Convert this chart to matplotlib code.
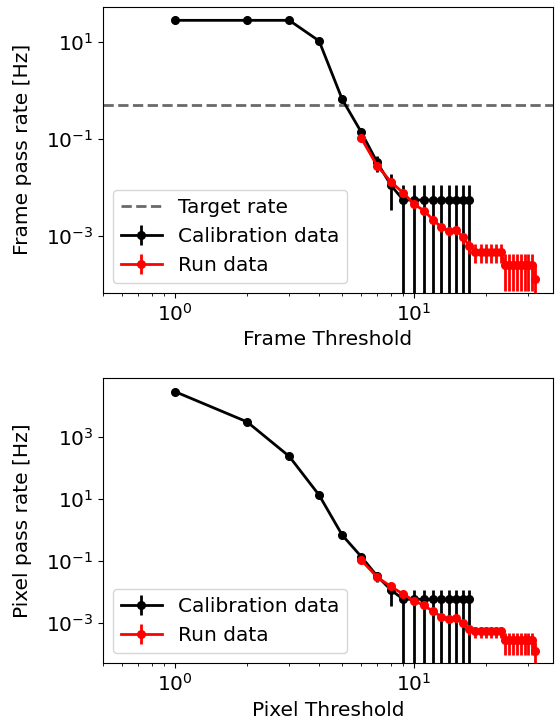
import matplotlib
matplotlib.use('Agg')
import matplotlib.pyplot as plt
import matplotlib.ticker as ticker
import numpy as np

# thresholds
cal_thresh = list(range(1, 18))
run_thresh = list(range(6, 33))

target_rate = 0.5

# frame threshold scan
frame_cal_rate = [28.5, 28.5, 28.5, 10.7, 0.66, 0.14, 0.033, 0.011,
                  0.0055, 0.0055, 0.0055, 0.0055, 0.0055, 0.0055, 0.0055, 0.0055, 0.0055]
frame_cal_err = [0.2, 0.2, 0.2, 0.12, 0.03, 0.015, 0.012, 0.0076,
                 0.0055, 0.0055, 0.0055, 0.0055, 0.0055, 0.0055, 0.0055, 0.0055, 0.0055]
frame_run_rate = [0.105, 0.028, 0.0130, 0.0077, 0.0045, 0.0033, 0.00213, 0.0015,
                  0.00124, 0.00132, 0.00093, 0.00062,
                  0.00047, 0.00047, 0.00047, 0.00047, 0.00047, 0.00047,
                  0.00025, 0.00025, 0.00025, 0.00025, 0.00025, 0.00025, 0.00025, 0.00025,
                  0.000126]
frame_run_err = [0.01, 0.003, 0.0015, 0.0009, 0.0006, 0.0005, 0.0004, 0.0003,
                 0.00027, 0.00028, 0.00024, 0.0002,
                 0.0002, 0.0002, 0.0002, 0.0002, 0.0002, 0.0002,
                 0.000177, 0.000177, 0.000177, 0.000177, 0.000177, 0.000177, 0.000177, 0.000177,
                 0.000126]

# pixel threshold scan
pixel_cal_rate = [30000, 3160, 242, 13.5, 0.68, 0.138, 0.032, 0.0114,
                  0.0057, 0.0057, 0.0057, 0.0057, 0.0057, 0.0057, 0.0057, 0.0057, 0.0057]
pixel_cal_err = [200, 40, 4, 0.5, 0.03, 0.015, 0.012, 0.008,
                 0.0057, 0.0057, 0.0057, 0.0057, 0.0057, 0.0057, 0.0057, 0.0057, 0.0057]
pixel_run_rate = [0.107, 0.0295, 0.0148, 0.0083, 0.0051, 0.0036, 0.0023, 0.00156,
                  0.00135, 0.00139, 0.00096, 0.0006,
                  0.00052, 0.00052, 0.00052, 0.00052, 0.00052, 0.00052,
                  0.00028, 0.00028, 0.00028, 0.00028, 0.00028, 0.00028, 0.00028, 0.00028,
                  0.00012]
pixel_run_err = [0.01, 0.003, 0.0015, 0.0009, 0.0006, 0.0005, 0.0004, 0.0003,
                 0.00028, 0.00029, 0.00025, 0.0002,
                 0.0002, 0.0002, 0.0002, 0.0002, 0.0002, 0.0002,
                 0.00019, 0.00019, 0.00019, 0.00019, 0.00019, 0.00019, 0.00019, 0.00019,
                 0.00012]

frame_yticks = [1e-3, 1e-1, 1e1]
pixel_yticks = [1e-3, 1e-1, 1e1, 1e3]

plt.rcParams['font.size'] = 14.5

fig = plt.figure(figsize=(5.55, 7.25), dpi=100)
ax1 = fig.add_axes([0.186, 0.596, 0.810, 0.395])
ax2 = fig.add_axes([0.186, 0.085, 0.810, 0.394])

style = dict(marker='o', markersize=5.5, linewidth=2, elinewidth=2)

# Frame threshold
ax1.axhline(target_rate, color='dimgrey', linestyle='--', linewidth=2, label='Target rate')
ax1.errorbar(cal_thresh, frame_cal_rate, yerr=frame_cal_err, color='k', label='Calibration data', **style)
ax1.errorbar(run_thresh, frame_run_rate, yerr=frame_run_err, color='r', label='Run data', **style)
ax1.set_xscale('log')
ax1.set_yscale('log')
ax1.set_xlim(0.5, 38)
ax1.set_ylim(6.6e-5, 55)
ax1.set_yticks(frame_yticks)
ax1.yaxis.set_minor_locator(ticker.NullLocator())
ax1.set_xlabel('Frame Threshold')
ax1.set_ylabel('Frame pass rate [Hz]', labelpad=10)
ax1.legend(loc='lower left')

# Pixel threshold
ax2.errorbar(cal_thresh, pixel_cal_rate, yerr=pixel_cal_err, color='k', label='Calibration data', **style)
ax2.errorbar(run_thresh, pixel_run_rate, yerr=pixel_run_err, color='r', label='Run data', **style)
ax2.set_xscale('log')
ax2.set_yscale('log')
ax2.set_xlim(0.5, 38)
ax2.set_ylim(4.8e-5, 8.5e4)
ax2.set_yticks(pixel_yticks)
ax2.yaxis.set_minor_locator(ticker.NullLocator())
ax2.set_xlabel('Pixel Threshold')
ax2.set_ylabel('Pixel pass rate [Hz]', labelpad=10)
ax2.legend(loc='lower left')

fig.savefig('out.png', dpi=100)
